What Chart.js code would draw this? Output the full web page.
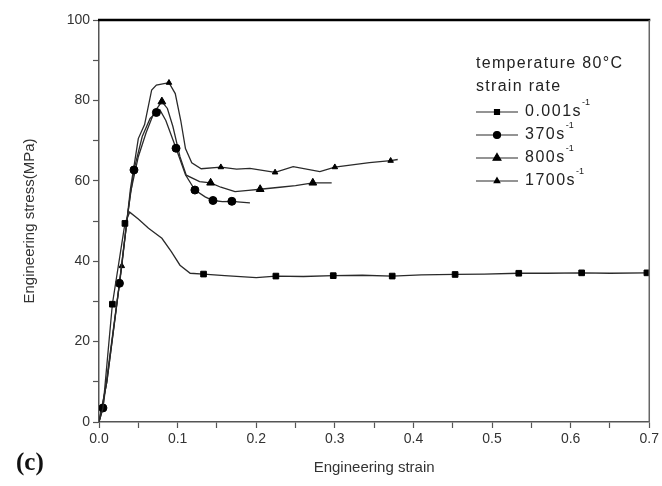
<!DOCTYPE html>
<html>
<head>
<meta charset="utf-8">
<script src="https://cdn.jsdelivr.net/npm/chart.js@4"></script>
<style>
  html, body { margin: 0; padding: 0; background: #fff; }
</style>
</head>
<body>
<canvas id="chart" width="662" height="486"></canvas>
<script>
// Series data (strain, stress in MPa)
const strain001 = [0, 0.005, 0.017, 0.033, 0.039, 0.05, 0.063, 0.08, 0.092, 0.103, 0.116, 0.133, 0.16, 0.2, 0.225, 0.26, 0.298, 0.335, 0.373, 0.41, 0.453, 0.49, 0.534, 0.57, 0.614, 0.65, 0.697];
const stress001 = [0, 3.4, 29.3, 49.4, 52.2, 50.5, 48.2, 45.7, 42.4, 39.0, 37.0, 36.8, 36.4, 35.9, 36.3, 36.2, 36.4, 36.5, 36.3, 36.6, 36.7, 36.8, 37.0, 37.0, 37.1, 37.0, 37.1];
const marks001 = [2, 3, 11, 14, 16, 18, 20, 22, 24, 26];

const strain370 = [0, 0.005, 0.026, 0.036, 0.0445, 0.055, 0.065, 0.073, 0.0775, 0.085, 0.098, 0.11, 0.122, 0.135, 0.145, 0.157, 0.169, 0.18, 0.192];
const stress370 = [0, 3.5, 34.5, 51, 62.7, 71, 75.5, 77, 77.6, 75, 68.1, 61.5, 57.7, 56, 55.1, 54.8, 54.9, 54.7, 54.5];
const marks370 = [1, 2, 4, 7, 10, 12, 14, 16];

const strain800 = [0, 0.01, 0.025, 0.04, 0.05, 0.06, 0.07, 0.08, 0.087, 0.094, 0.103, 0.111, 0.128, 0.142, 0.155, 0.173, 0.19, 0.205, 0.23, 0.25, 0.272, 0.296];
const stress800 = [0, 10, 33, 57, 66, 72, 77, 79.7, 78, 73.5, 66, 61.4, 59.8, 59.5, 58.4, 57.3, 57.6, 57.9, 58.4, 58.8, 59.5, 59.5];
const marks800 = [7, 13, 17, 20];

const strain1700 = [0, 0.01, 0.029, 0.04, 0.05, 0.058, 0.067, 0.073, 0.089, 0.097, 0.104, 0.11, 0.118, 0.13, 0.155, 0.175, 0.192, 0.224, 0.247, 0.281, 0.3, 0.344, 0.371, 0.38];
const stress1700 = [0, 10, 38.8, 58, 70.5, 74, 82.6, 83.8, 84.4, 81.7, 75, 68, 64.5, 63, 63.4, 62.9, 63.1, 62.1, 63.5, 62.3, 63.4, 64.5, 65, 65.3];
const marks1700 = [2, 8, 14, 17, 20, 22];

const seriesLabels = ['0.001s', '370s', '800s', '1700s'];
const legendTitle = ['temperature 80°C', 'strain rate'];
const yTicks = [0, 20, 40, 60, 80, 100];
const xTicks = [0, 0.1, 0.2, 0.3, 0.4, 0.5, 0.6, 0.7];

const FONT = '"Liberation Sans", Arial, sans-serif';
const LINE = '#2a2a2a';

function toPoints(xs, ys) {
  return xs.map((x, i) => ({ x: x, y: ys[i] }));
}

function makeSet(label, xs, ys, marks, style, r) {
  return {
    label: label,
    data: toPoints(xs, ys),
    showLine: true,
    borderColor: LINE,
    borderWidth: 1.3,
    backgroundColor: '#000',
    pointBorderColor: '#000',
    pointBackgroundColor: '#000',
    pointStyle: style,
    pointRadius: ctx => marks.includes(ctx.dataIndex) ? r : 0,
    pointHoverRadius: 0,
    pointBorderWidth: 1,
    tension: 0
  };
}

const datasets = [
  makeSet(seriesLabels[0], strain001, stress001, marks001, 'rect', 4),
  makeSet(seriesLabels[1], strain370, stress370, marks370, 'circle', 4),
  makeSet(seriesLabels[2], strain800, stress800, marks800, 'triangle', 4.5),
  makeSet(seriesLabels[3], strain1700, stress1700, marks1700, 'triangle', 3.2)
];

// top and right frame lines
const framePlugin = {
  id: 'frame',
  afterDraw(chart) {
    const { ctx, chartArea: a } = chart;
    ctx.save();
    ctx.strokeStyle = '#000';
    ctx.lineWidth = 2.5;
    ctx.beginPath();
    ctx.moveTo(a.left - 1, a.top);
    ctx.lineTo(a.right + 1, a.top);
    ctx.stroke();
    ctx.strokeStyle = '#666';
    ctx.lineWidth = 1.5;
    ctx.beginPath();
    ctx.moveTo(a.right, a.top);
    ctx.lineTo(a.right, a.bottom);
    ctx.stroke();
    ctx.restore();
  }
};

// legend with line-marker-line samples and superscript -1
const legendPlugin = {
  id: 'figLegend',
  afterDraw(chart) {
    const ctx = chart.ctx;
    const x0 = 476;
    ctx.save();
    ctx.fillStyle = '#222';
    ctx.font = '16px ' + FONT;
    ctx.letterSpacing = '1.3px';
    ctx.textBaseline = 'middle';
    ctx.textAlign = 'left';
    ctx.fillText(legendTitle[0], x0, 64);
    ctx.fillText(legendTitle[1], x0, 87);
    const rowY = [112, 135, 158, 181];
    chart.data.datasets.forEach((ds, i) => {
      const y = rowY[i];
      ctx.strokeStyle = LINE;
      ctx.lineWidth = 1.2;
      ctx.beginPath();
      ctx.moveTo(x0, y);
      ctx.lineTo(x0 + 42, y);
      ctx.stroke();
      const r = i === 3 ? 3.2 : (i === 2 ? 4.5 : 3.5);
      ctx.fillStyle = '#000';
      ctx.strokeStyle = '#000';
      Chart.helpers.drawPoint(ctx, { pointStyle: ds.pointStyle, radius: r, rotation: 0, borderWidth: 1 }, x0 + 21, y);
      ctx.fillStyle = '#222';
      ctx.font = '16px ' + FONT;
      ctx.letterSpacing = '1.5px';
      ctx.fillText(ds.label, x0 + 49, y);
      const w = ctx.measureText(ds.label).width;
      ctx.font = '9px ' + FONT;
      ctx.letterSpacing = '0px';
      ctx.fillText('-1', x0 + 49 + w, y - 9);
    });
    ctx.restore();
  }
};

// panel letter
const panelPlugin = {
  id: 'panel',
  afterDraw(chart) {
    const ctx = chart.ctx;
    ctx.save();
    ctx.fillStyle = '#111';
    ctx.font = 'bold 25px "Liberation Serif", "DejaVu Serif", serif';
    ctx.textBaseline = 'middle';
    ctx.fillText('(c)', 16, 464);
    ctx.restore();
  }
};

new Chart(document.getElementById('chart'), {
  type: 'scatter',
  data: { datasets: datasets },
  plugins: [framePlugin, legendPlugin, panelPlugin],
  options: {
    responsive: false,
    animation: false,
    events: [],
    layout: { padding: { top: 20, right: 10, left: 0, bottom: 0 } },
    plugins: {
      legend: { display: false },
      tooltip: { enabled: false }
    },
    scales: {
      x: {
        type: 'linear',
        min: 0,
        max: 0.7,
        afterBuildTicks: scale => {
          const t = [];
          for (let i = 0; i <= 14; i++) t.push({ value: i * 0.05 });
          scale.ticks = t;
        },
        afterFit: scale => { scale.height = 64; },
        ticks: {
          autoSkip: false,
          maxRotation: 0,
          color: '#333',
          font: { family: FONT, size: 14 },
          padding: 3,
          callback: function (v) {
            const hit = xTicks.find(t => Math.abs(t - v) < 1e-6);
            return hit === undefined ? '' : hit.toFixed(1);
          }
        },
        grid: {
          drawOnChartArea: false,
          tickLength: 6,
          tickColor: '#555',
          tickWidth: 1.2
        },
        border: { color: '#555', width: 1.5 },
        title: {
          display: true,
          text: 'Engineering strain',
          color: '#333',
          font: { family: FONT, size: 15 },
          padding: { top: 0, bottom: 9 }
        }
      },
      y: {
        type: 'linear',
        min: 0,
        max: 100,
        afterBuildTicks: scale => {
          const t = [];
          for (let i = 0; i <= 10; i++) t.push({ value: i * 10 });
          scale.ticks = t;
        },
        afterFit: scale => { scale.width = 99; },
        ticks: {
          autoSkip: false,
          color: '#333',
          font: { family: FONT, size: 14 },
          padding: 3,
          callback: v => yTicks.includes(v) ? String(v) : ''
        },
        grid: {
          drawOnChartArea: false,
          tickLength: 6,
          tickColor: '#555',
          tickWidth: 1.2
        },
        border: { color: '#555', width: 1.5 },
        title: {
          display: true,
          text: 'Engineering stress(MPa)',
          color: '#333',
          font: { family: FONT, size: 15 },
          padding: { top: 21, bottom: 0 }
        }
      }
    }
  }
});
</script>
</body>
</html>
